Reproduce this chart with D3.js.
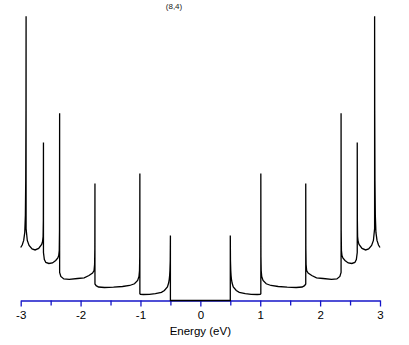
<!DOCTYPE html>
<html lang="en">
<head>
    <meta charset="UTF-8">
    <title>(8,4) DOS</title>
    <script src="https://cdn.jsdelivr.net/npm/d3@7"></script>
    <style>
        body { margin: 0; background: #fff; }
        svg { display: block; }
        .tick text { font-family: "Liberation Sans", Arial, sans-serif; font-size: 11.5px; fill: #000; }
        .axis-label { font-family: "Liberation Sans", Arial, sans-serif; font-size: 11.5px; fill: #000; }
        .title { font-family: "Liberation Sans", Arial, sans-serif; font-size: 8px; fill: #222; }
    </style>
</head>
<body>
<div id="chart"></div>
<script>
    // Chart title and axis ticks
    const chartTitle = "(8,4)";
    const xTicks = [-3, -2.5, -2, -1.5, -1, -0.5, 0, 0.5, 1, 1.5, 2, 2.5, 3];
    const xTickLabels = ["-3", "", "-2", "", "-1", "", "0", "", "1", "", "2", "", "3"];

    // Density of states (arbitrary units), negative energies
    const energyLeft = [-3.0, -2.975, -2.95, -2.932, -2.922, -2.916, -2.912, -2.91,
        -2.91, -2.89, -2.86, -2.81, -2.76, -2.7, -2.65, -2.635, -2.626, -2.622, -2.62,
        -2.62, -2.605, -2.58, -2.53, -2.47, -2.415, -2.38, -2.365, -2.356, -2.352, -2.35,
        -2.35, -2.33, -2.28, -2.19, -2.05, -1.94, -1.86, -1.8, -1.775, -1.766, -1.762, -1.76,
        -1.76, -1.74, -1.7, -1.6, -1.45, -1.3, -1.18, -1.1, -1.047, -1.025, -1.016, -1.012, -1.01,
        -1.01, -1.0, -0.95, -0.85, -0.75, -0.65, -0.6, -0.55, -0.53, -0.52, -0.513, -0.508, -0.503, -0.5, -0.5];
    const dosLeft = [5.3, 5.55, 6.0, 6.8, 8.5, 12, 19, 28.4,
        7.2, 6.0, 5.5, 5.15, 5.05, 5.2, 5.6, 5.9, 6.4, 8.0, 15.8,
        4.8, 4.1, 3.8, 3.7, 3.75, 4.0, 4.25, 4.5, 5.0, 7.0, 18.7,
        2.8, 2.4, 2.15, 2.12, 2.2, 2.27, 2.5, 2.75, 3.0, 3.6, 5.2, 11.7,
        1.65, 1.48, 1.35, 1.3, 1.33, 1.4, 1.5, 1.67, 2.0, 2.4, 3.0, 4.4, 12.7,
        0.68, 0.62, 0.6, 0.62, 0.68, 0.82, 1.0, 1.35, 1.75, 2.1, 2.5, 3.0, 4.0, 6.5, 0];

    // positive energies
    const energyRight = [0.5, 0.5, 0.503, 0.508, 0.513, 0.52, 0.53, 0.55, 0.6, 0.65, 0.75, 0.85, 0.95, 1.0, 1.01,
        1.01, 1.012, 1.016, 1.025, 1.047, 1.1, 1.18, 1.3, 1.45, 1.6, 1.7, 1.74, 1.76,
        1.76, 1.762, 1.766, 1.775, 1.8, 1.86, 1.94, 2.05, 2.19, 2.28, 2.33, 2.35,
        2.35, 2.352, 2.356, 2.365, 2.38, 2.415, 2.47, 2.53, 2.58, 2.605, 2.62,
        2.62, 2.622, 2.626, 2.635, 2.65, 2.7, 2.76, 2.81, 2.86, 2.89, 2.91,
        2.91, 2.912, 2.916, 2.922, 2.932, 2.95, 2.975, 3.0];
    const dosRight = [0, 6.5, 4.0, 3.0, 2.5, 2.1, 1.75, 1.35, 1.0, 0.82, 0.68, 0.62, 0.6, 0.62, 0.68,
        12.7, 4.4, 3.0, 2.4, 2.0, 1.67, 1.5, 1.4, 1.33, 1.3, 1.35, 1.48, 1.65,
        11.7, 5.2, 3.6, 3.0, 2.75, 2.5, 2.27, 2.2, 2.12, 2.15, 2.4, 2.8,
        18.7, 7.0, 5.0, 4.5, 4.25, 4.0, 3.75, 3.7, 3.8, 4.1, 4.8,
        15.8, 8.0, 6.4, 5.9, 5.6, 5.2, 5.05, 5.15, 5.5, 6.0, 7.2,
        28.4, 19, 12, 8.5, 6.8, 6.0, 5.55, 5.3];

    const width = 409, height = 345;
    const axisY = 300.5;

    const svg = d3.select("#chart")
        .append("svg")
        .attr("width", width)
        .attr("height", height);

    const x = d3.scaleLinear().domain([-3, 3]).range([20.7, 380]);
    const y = d3.scaleLinear().domain([0, 28.5]).range([300.5, 15.3]);

    // x axis (blue, ticks pointing down, labels on integers only)
    const axis = svg.append("g")
        .attr("transform", `translate(0,${axisY})`)
        .call(d3.axisBottom(x)
            .tickValues(xTicks)
            .tickFormat((d, i) => xTickLabels[i])
            .tickSize(6)
            .tickSizeOuter(0)
            .tickPadding(4.5));
    axis.select(".domain").attr("stroke", "#1414c8").attr("stroke-width", 1.3);
    axis.selectAll(".tick line")
        .attr("stroke", "#1414c8")
        .attr("stroke-width", 1.3)
        .attr("y2", (d, i) => xTickLabels[i] === "" ? 5 : 6);

    // curve
    const pts = energyLeft.map((e, i) => [e, dosLeft[i]])
        .concat(energyRight.map((e, i) => [e, dosRight[i]]));

    const line = d3.line()
        .x(d => x(d[0]))
        .y(d => y(d[1]));

    svg.append("path")
        .datum(pts)
        .attr("fill", "none")
        .attr("stroke", "#000")
        .attr("stroke-width", 1.3)
        .attr("stroke-linejoin", "miter")
        .attr("d", line);

    // labels
    svg.append("text")
        .attr("class", "axis-label")
        .attr("x", x(0))
        .attr("y", 335)
        .attr("text-anchor", "middle")
        .text("Energy (eV)");

    svg.append("text")
        .attr("class", "title")
        .attr("x", 174)
        .attr("y", 9)
        .attr("text-anchor", "middle")
        .text(chartTitle);
</script>
</body>
</html>
